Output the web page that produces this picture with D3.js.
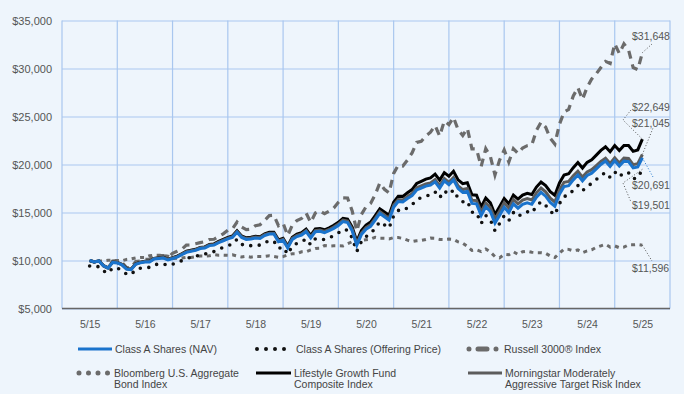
<!DOCTYPE html>
<html>
<head>
<meta charset="utf-8">
<script src="https://cdn.jsdelivr.net/npm/d3@7"></script>
<style>
  html, body { margin: 0; padding: 0; background: #eef5fc; }
  svg { display: block; font-family: "Liberation Sans", Arial, sans-serif; }
</style>
</head>
<body>
<script>
// ----- Data (values in $ thousands, monthly from 5/15 to 5/25) -----

const yearLabels = ["5/15", "5/16", "5/17", "5/18", "5/19", "5/20", "5/21", "5/22", "5/23", "5/24", "5/25"];
const yTicks = [5, 10, 15, 20, 25, 30, 35];

const classANav = [
  10.00, 9.85, 9.95, 9.45, 9.20, 9.80, 9.75, 9.55,
  9.10, 9.05, 9.60, 9.75, 9.85, 9.85, 10.15, 10.20, 10.25, 10.05, 10.20, 10.35,
  10.60, 10.85, 10.95, 11.05, 11.25, 11.30, 11.55, 11.60, 11.85, 12.05, 12.25, 12.40,
  12.95, 12.40, 12.20, 12.25, 12.35, 12.30, 12.60, 12.75, 12.75, 11.95, 12.10, 11.30,
  12.20, 12.50, 12.65, 13.00, 12.35, 13.00, 13.05, 12.90, 13.10, 13.35, 13.65, 14.05,
  13.95, 13.10, 11.60, 12.70, 13.25, 13.55, 14.20, 14.90, 14.55, 14.20, 15.55, 16.15,
  16.10, 16.45, 16.75, 17.35, 17.55, 17.75, 17.85, 18.20, 17.55, 18.30, 17.90, 18.40,
  17.50, 17.10, 17.20, 15.95, 15.90, 14.70, 15.60, 15.10, 13.90, 14.70, 15.55, 15.00,
  15.90, 15.45, 15.85, 16.00, 15.85, 16.60, 17.10, 16.70, 16.05, 15.65, 16.90, 17.70,
  17.80, 18.40, 18.90, 18.30, 18.85, 19.10, 19.55, 20.00, 20.35, 19.80, 20.40, 19.85,
  20.35, 20.30, 19.65, 19.75, 20.691
];

const classAOffer = [
  9.43, 9.28, 9.38, 8.91, 8.67, 9.24, 9.19, 9.00,
  8.58, 8.53, 9.05, 9.19, 9.28, 9.28, 9.57, 9.61, 9.66, 9.47, 9.61, 9.75,
  9.99, 10.23, 10.32, 10.41, 10.60, 10.65, 10.89, 10.93, 11.17, 11.36, 11.55, 11.69,
  12.21, 11.69, 11.50, 11.55, 11.64, 11.59, 11.88, 12.02, 12.02, 11.26, 11.40, 10.65,
  11.50, 11.78, 11.92, 12.25, 11.64, 12.25, 12.30, 12.16, 12.35, 12.58, 12.87, 13.24,
  13.15, 12.35, 10.93, 11.97, 12.49, 12.77, 13.38, 14.04, 13.71, 13.38, 14.66, 15.22,
  15.17, 15.50, 15.79, 16.35, 16.54, 16.73, 16.82, 17.15, 16.54, 17.25, 16.87, 17.34,
  16.49, 16.12, 16.21, 15.03, 14.99, 13.85, 14.70, 14.23, 13.10, 13.85, 14.66, 14.14,
  14.99, 14.56, 14.94, 15.08, 14.94, 15.65, 16.12, 15.74, 15.13, 14.75, 15.93, 16.68,
  16.78, 17.34, 17.81, 17.25, 17.77, 18.00, 18.43, 18.85, 19.18, 18.66, 19.23, 18.71,
  19.18, 19.13, 18.52, 18.61, 19.501
];

const russell3000 = [
  10.00, 9.81, 10.02, 9.42, 9.18, 9.95, 9.98, 9.82,
  9.27, 9.26, 9.89, 9.93, 10.11, 10.14, 10.51, 10.52, 10.52, 10.29, 10.75, 10.96,
  11.17, 11.61, 11.62, 11.74, 11.86, 11.96, 12.19, 12.21, 12.50, 12.78, 13.16, 13.29,
  14.00, 13.48, 13.21, 13.26, 13.63, 13.73, 14.18, 14.68, 14.71, 13.62, 13.89, 12.60,
  13.68, 14.16, 14.37, 14.94, 13.97, 14.95, 15.17, 14.87, 15.14, 15.47, 16.06, 16.53,
  16.51, 15.16, 13.07, 14.79, 15.59, 15.95, 16.86, 18.07, 17.42, 17.04, 19.07, 19.93,
  19.85, 20.47, 21.21, 22.31, 22.42, 22.98, 23.37, 24.05, 22.97, 24.53, 24.16, 24.90,
  23.62, 23.03, 23.77, 21.63, 21.61, 19.79, 21.65, 20.85, 18.91, 20.46, 21.52, 20.25,
  21.65, 21.15, 21.72, 21.96, 22.05, 23.55, 24.40, 23.89, 22.74, 22.13, 24.19, 25.47,
  25.75, 27.14, 28.01, 26.78, 28.04, 28.91, 29.46, 30.11, 30.74, 30.52, 32.57, 31.56,
  32.57, 31.95, 30.10, 29.89, 31.648
];

const bloombergAgg = [
  10.00, 9.89, 9.96, 9.95, 10.02, 10.02, 10.00, 9.97,
  10.11, 10.17, 10.27, 10.31, 10.31, 10.50, 10.56, 10.55, 10.54, 10.46, 10.21, 10.23,
  10.25, 10.32, 10.31, 10.39, 10.47, 10.46, 10.50, 10.60, 10.55, 10.56, 10.54, 10.59,
  10.47, 10.37, 10.43, 10.35, 10.43, 10.42, 10.42, 10.49, 10.42, 10.34, 10.40, 10.59,
  10.70, 10.70, 10.90, 10.91, 11.10, 11.25, 11.27, 11.56, 11.50, 11.53, 11.53, 11.52,
  11.74, 11.96, 11.89, 12.10, 12.16, 12.23, 12.42, 12.32, 12.31, 12.25, 12.38, 12.39,
  12.30, 12.12, 11.97, 12.06, 12.10, 12.19, 12.33, 12.31, 12.20, 12.19, 12.23, 12.20,
  11.94, 11.81, 11.48, 11.04, 11.11, 10.93, 11.20, 10.88, 10.41, 10.27, 10.65, 10.60,
  10.92, 10.64, 10.91, 10.97, 10.86, 10.82, 10.82, 10.75, 10.47, 10.31, 10.77, 11.19,
  11.16, 11.00, 11.10, 10.82, 11.00, 11.11, 11.37, 11.53, 11.68, 11.40, 11.52, 11.33,
  11.39, 11.63, 11.63, 11.67, 11.596
];

const lifestyleComposite = [
  10.00, 9.86, 9.97, 9.48, 9.23, 9.84, 9.79, 9.60,
  9.15, 9.10, 9.66, 9.81, 9.92, 9.92, 10.22, 10.28, 10.33, 10.14, 10.29, 10.45,
  10.70, 10.96, 11.06, 11.17, 11.37, 11.42, 11.68, 11.73, 11.99, 12.19, 12.40, 12.55,
  13.10, 12.56, 12.36, 12.42, 12.52, 12.48, 12.78, 12.94, 12.94, 12.15, 12.31, 11.52,
  12.43, 12.74, 12.90, 13.26, 12.62, 13.28, 13.34, 13.20, 13.41, 13.67, 13.98, 14.40,
  14.32, 13.49, 12.00, 13.12, 13.69, 14.00, 14.67, 15.38, 15.05, 14.72, 16.08, 16.70,
  16.68, 17.06, 17.39, 18.02, 18.25, 18.48, 18.61, 18.99, 18.37, 19.15, 18.78, 19.30,
  18.40, 18.00, 18.10, 16.85, 16.80, 15.58, 16.50, 16.00, 14.78, 15.60, 16.45, 15.90,
  16.82, 16.40, 16.82, 17.00, 16.87, 17.65, 18.18, 17.80, 17.18, 16.80, 18.08, 18.90,
  19.03, 19.67, 20.20, 19.63, 20.22, 20.50, 20.98, 21.47, 21.85, 21.33, 21.97, 21.45,
  21.97, 21.98, 21.37, 21.52, 22.649
];

const morningstarModAggr = [
  10.00, 9.86, 9.97, 9.47, 9.23, 9.83, 9.79, 9.59,
  9.14, 9.09, 9.64, 9.80, 9.90, 9.90, 10.20, 10.25, 10.30, 10.11, 10.26, 10.41,
  10.66, 10.91, 11.01, 11.12, 11.32, 11.37, 11.62, 11.67, 11.92, 12.13, 12.33, 12.48,
  13.03, 12.48, 12.28, 12.34, 12.44, 12.39, 12.69, 12.84, 12.84, 12.05, 12.20, 11.40,
  12.30, 12.61, 12.76, 13.11, 12.47, 13.12, 13.18, 13.03, 13.23, 13.49, 13.79, 14.20,
  14.11, 13.26, 11.77, 12.87, 13.43, 13.73, 14.38, 15.09, 14.74, 14.39, 15.75, 16.35,
  16.30, 16.66, 16.96, 17.57, 17.77, 17.98, 18.08, 18.43, 17.79, 18.54, 18.14, 18.65,
  17.77, 17.39, 17.50, 16.27, 16.24, 15.07, 15.99, 15.51, 14.33, 15.15, 16.02, 15.45,
  16.35, 15.90, 16.30, 16.45, 16.30, 17.05, 17.55, 17.15, 16.50, 16.10, 17.35, 18.15,
  18.24, 18.82, 19.30, 18.69, 19.22, 19.46, 19.89, 20.33, 20.66, 20.10, 20.69, 20.15,
  20.66, 20.62, 19.98, 20.09, 21.045
];

// ----- Layout -----
const W = 684, H = 394;
const LEFT = 62, RIGHT = 670, TOP = 20.5, BOTTOM = 308.5;
const GRID_COLOR = "#a9c7ef";
const TEXT_COLOR = "#555";

const svg = d3.select("body").append("svg")
  .attr("width", W)
  .attr("height", H);

svg.append("rect").attr("width", W).attr("height", H).attr("fill", "#eef5fc");

// month index scale: labels sit in the middle of yearly bands
const x = d3.scaleLinear().domain([-6, 126]).range([LEFT, RIGHT]);
const y = d3.scaleLinear().domain([5, 35]).range([BOTTOM, TOP]);

// ----- Grid -----
const yAxis = d3.axisLeft(y)
  .tickValues(yTicks)
  .tickSize(-(RIGHT - LEFT))
  .tickPadding(10)
  .tickFormat(d => "$" + d3.format(",")(d * 1000));

const gy = svg.append("g")
  .attr("transform", `translate(${LEFT},0)`)
  .call(yAxis);
gy.select(".domain").remove();
gy.selectAll(".tick line").attr("stroke", GRID_COLOR).attr("stroke-width", 1.2);
gy.selectAll(".tick text")
  .attr("fill", TEXT_COLOR)
  .style("font-size", "11px")
  .style("font-family", "'Liberation Sans', Arial, sans-serif");

const vGrid = d3.range(-6, 127, 12);
svg.append("g").selectAll("line")
  .data(vGrid)
  .enter()
  .append("line")
    .attr("x1", d => x(d)).attr("x2", d => x(d))
    .attr("y1", TOP).attr("y2", BOTTOM)
    .attr("stroke", GRID_COLOR)
    .attr("stroke-width", 1.2);

const xAxis = d3.axisBottom(x)
  .tickValues(d3.range(0, 121, 12))
  .tickSize(0)
  .tickPadding(12)
  .tickFormat((d, i) => yearLabels[i]);

const gx = svg.append("g")
  .attr("transform", `translate(0,${BOTTOM})`)
  .call(xAxis);
gx.select(".domain").attr("stroke", "#666").attr("stroke-width", 1.5)
  .attr("d", `M${LEFT},0H${RIGHT}`);
gx.selectAll(".tick text")
  .attr("fill", TEXT_COLOR)
  .style("font-size", "10.5px")
  .style("font-family", "'Liberation Sans', Arial, sans-serif");

// ----- Series -----
const series = [
  { name: "Bloomberg", values: bloombergAgg, color: "#6b6b6b", width: 3, dash: "4 4.5", cap: "butt" },
  { name: "Russell", values: russell3000, color: "#6b6b6b", width: 3.2, dash: "8 6", cap: "butt" },
  { name: "Offering", values: classAOffer, color: "#111", width: 3.6, dash: "0 8.6", cap: "round" },
  { name: "Composite", values: lifestyleComposite, color: "#000", width: 3, dash: null, cap: "butt" },
  { name: "Morningstar", values: morningstarModAggr, color: "#5c5c5c", width: 3, dash: null, cap: "butt" },
  { name: "NAV", values: classANav, color: "#1a73cc", width: 3, dash: null, cap: "butt" }
];

const line = d3.line()
  .x((d, i) => x(i))
  .y(d => y(d));

svg.append("g").selectAll("path")
  .data(series)
  .enter()
  .append("path")
    .attr("d", d => line(d.values))
    .attr("fill", "none")
    .attr("stroke", d => d.color)
    .attr("stroke-width", d => d.width)
    .attr("stroke-dasharray", d => d.dash)
    .attr("stroke-linecap", d => d.cap)
    .attr("stroke-linejoin", "miter");

// ----- End labels with dotted leaders -----
const last = 120;
const endLabels = [
  { values: russell3000, text: "$31,648", ty: 36, pts: [[652, 44]], color: "#555" },
  { values: lifestyleComposite, text: "$22,649", ty: 107, pts: [[623, 120], [631, 110]], color: "#555" },
  { values: morningstarModAggr, text: "$21,045", ty: 123, pts: [[653, 128]], color: "#555" },
  { values: classANav, text: "$20,691", ty: 185, pts: [[653, 177]], color: "#1a73cc" },
  { values: classAOffer, text: "$19,501", ty: 205, pts: [[623, 183], [631, 202]], color: "#555" },
  { values: bloombergAgg, text: "$11,596", ty: 268, pts: [[652, 261]], color: "#555" }
];

const labels = svg.append("g");
endLabels.forEach(l => {
  const start = [x(last), y(l.values[last])];
  labels.append("path")
    .attr("d", d3.line()([start, ...l.pts]))
    .attr("fill", "none")
    .attr("stroke", l.color)
    .attr("stroke-width", 1)
    .attr("stroke-dasharray", "1 2");
  labels.append("text")
    .attr("x", 632)
    .attr("y", l.ty)
    .attr("dy", "0.35em")
    .attr("fill", TEXT_COLOR)
    .style("font-size", "10.5px")
    .text(l.text);
});

// ----- Legend -----
const legendItems = [
  { lines: ["Class A Shares (NAV)"], x: 78, y: 349, color: "#1a73cc", width: 3, dash: null, cap: "butt", len: 34 },
  { lines: ["Class A Shares (Offering Price)"], x: 257, y: 349, color: "#111", width: 4, dash: "0 9", cap: "round", len: 36 },
  { lines: ["Russell 3000\u00ae Index"], x: 469, y: 349, color: "#6b6b6b", width: 5, dash: "0 9 9 9 0 40", cap: "round", len: 32 },
  { lines: ["Bloomberg U.S. Aggregate", "Bond Index"], x: 79, y: 373, color: "#6b6b6b", width: 5, dash: "0 9.5", cap: "round", len: 32 },
  { lines: ["Lifestyle Growth Fund", "Composite Index"], x: 256, y: 373, color: "#000", width: 3, dash: null, cap: "butt", len: 35 },
  { lines: ["Morningstar Moderately", "Aggressive Target Risk Index"], x: 468, y: 373, color: "#5c5c5c", width: 3, dash: null, cap: "butt", len: 34 }
];

const legend = svg.append("g");
legendItems.forEach(it => {
  legend.append("line")
    .attr("x1", it.x).attr("x2", it.x + it.len)
    .attr("y1", it.y).attr("y2", it.y)
    .attr("stroke", it.color)
    .attr("stroke-width", it.width)
    .attr("stroke-dasharray", it.dash)
    .attr("stroke-linecap", it.cap);
  const t = legend.append("text")
    .attr("x", it.x + it.len + 3)
    .attr("y", it.y)
    .attr("fill", "#444")
    .style("font-size", "10.5px");
  it.lines.forEach((s, i) => {
    t.append("tspan")
      .attr("x", it.x + it.len + 3)
      .attr("dy", i === 0 ? "0.35em" : "1.1em")
      .text(s);
  });
});
</script>
</body>
</html>
